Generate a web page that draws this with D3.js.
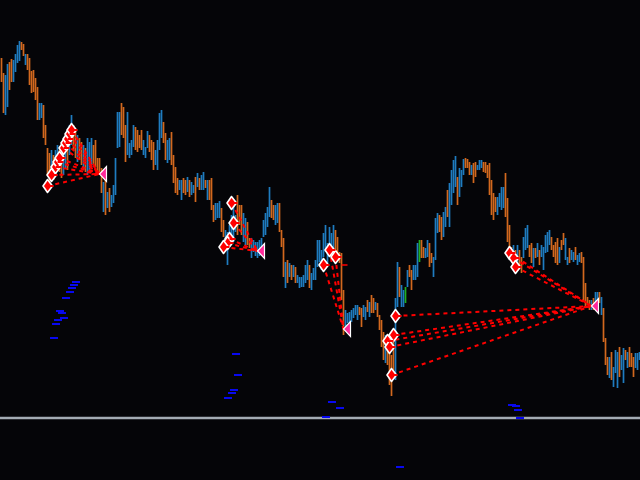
<!DOCTYPE html>
<html>
<head>
<meta charset="utf-8">
<script src="https://cdn.jsdelivr.net/npm/d3@7"></script>
<style>
html, body { margin: 0; padding: 0; background: #050508; overflow: hidden; }
</style>
</head>
<body>
<div id="chart"></div>
<script>
// bar highs / lows, in points (1 point = 0.0001)
var highs = [
    1222,1207,1205,1216,1218,1221,1220,1226,1235,1239,
    1238,1236,1226,1226,1222,1209,1210,1202,1193,1177,
    1177,1175,1155,1132,1127,1130,1125,1130,1135,1130,
    1125,1130,1140,1135,1155,1165,1155,1150,1145,1142,
    1138,1135,1132,1142,1138,1142,1135,1140,1122,1122,
    1112,1098,1102,1088,1092,1085,1095,1122,1168,1168,
    1177,1173,1155,1168,1137,1140,1155,1153,1150,1145,
    1150,1140,1133,1149,1145,1140,1138,1130,1140,1167,
    1170,1158,1147,1140,1142,1148,1125,1113,1102,1100,
    1100,1102,1100,1103,1100,1098,1095,1103,1107,1102,
    1105,1108,1100,1100,1100,1102,1075,1077,1077,1079,
    1072,1060,1050,1048,1055,1065,1075,1065,1085,1075,
    1075,1067,1062,1058,1042,1042,1040,1038,1038,1040,
    1042,1060,1067,1073,1093,1080,1075,1075,1077,1077,
    1050,1042,1018,1020,1017,1015,1015,1013,1005,1003,
    1003,1005,1015,1020,1015,1007,1012,1020,1040,1040,
    1030,1047,1055,1037,1053,1047,1055,1050,1043,1028,
    1027,990,970,967,968,970,972,975,975,973,
    972,975,973,980,978,985,982,978,977,965,
    960,948,945,940,935,925,950,982,1018,1013,
    995,990,993,1010,1015,1010,1015,1015,1037,1040,
    1040,1033,1032,1040,1037,1027,1023,1062,1067,1065,
    1063,1068,1073,1090,1097,1110,1120,1124,1103,1112,
    1110,1121,1122,1121,1118,1115,1117,1118,1115,1120,
    1120,1118,1118,1115,1117,1100,1087,1083,1083,1087,
    1093,1093,1107,1082,1055,1033,1035,1030,1035,1030,
    1023,1043,1052,1055,1035,1037,1032,1032,1037,1030,
    1035,1033,1045,1048,1050,1043,1035,1038,1042,1033,
    1040,1047,1042,1023,1032,1030,1028,1033,1025,1027,
    1028,1023,997,983,980,980,982,988,988,988,
    983,972,942,923,923,928,913,930,928,933,
    925,932,930,928,933,927,923,927,927,928
];
var lows = [
    1198,1167,1165,1173,1190,1198,1198,1208,1217,1219,
    1230,1224,1215,1210,1195,1187,1188,1180,1160,1160,
    1162,1142,1135,1105,1095,1102,1100,1108,1110,1108,
    1102,1105,1112,1110,1125,1135,1130,1122,1118,1120,
    1115,1110,1108,1105,1110,1112,1115,1113,1108,1105,
    1087,1068,1065,1072,1068,1073,1077,1085,1132,1133,
    1145,1142,1118,1125,1122,1125,1133,1130,1128,1132,
    1130,1125,1122,1132,1128,1120,1110,1115,1110,1130,
    1142,1137,1120,1117,1120,1115,1097,1087,1085,1090,
    1080,1087,1085,1088,1083,1085,1087,1078,1093,1090,
    1090,1090,1092,1080,1080,1070,1058,1060,1062,1062,
    1048,1043,1030,1015,1035,1045,1038,1048,1045,1055,
    1045,1038,1035,1035,1032,1022,1028,1024,1022,1024,
    1030,1043,1045,1053,1063,1062,1060,1055,1057,1048,
    1033,1003,992,997,1003,1000,1003,997,997,992,
    993,993,997,1000,992,990,1000,1000,1013,1018,
    1010,1023,1028,1017,1023,1033,1028,1023,1023,1017,
    980,945,953,957,953,958,962,965,960,965,
    953,963,960,968,963,967,967,970,963,950,
    933,920,917,915,895,884,908,900,973,983,
    973,973,977,993,1003,990,1000,1000,1003,1018,
    1022,1022,1022,1023,1013,1017,1003,1020,1047,1048,
    1040,1043,1053,1063,1053,1075,1087,1093,1075,1083,
    1093,1105,1112,1112,1105,1105,1097,1103,1110,1110,
    1112,1108,1107,1102,1085,1065,1060,1068,1065,1073,
    1070,1072,1063,1038,1030,1020,1018,1012,1015,1012,
    1007,1022,1030,1032,1023,1017,1013,1022,1023,1015,
    1023,1010,1027,1028,1035,1030,1023,1017,1015,1017,
    1030,1035,1020,1015,1017,1020,1018,1020,1015,1018,
    1017,980,973,975,970,970,970,973,973,977,
    965,938,915,905,902,900,893,907,892,903,
    910,897,920,912,913,913,903,912,910,920
];
// u = up bar, o = down bar, g = unchanged
var dirs = [
    "oouuoouuuu","oouoooooou","uoooououuo","ouuouuoouo","ououuuoooo",
    "ouououuuuu","ooouuuuooo","ouuuooouuu","uoouuoooou","uoououuouo",
    "uuouooouuu","oouuuuuuoo","ouuoouuuuu","uuuuuoouuo","oououououu",
    "uuuuouuuuu","uuuuuuuooo","oouuuuuuuo","ouuouoouoo","oouoooouuo",
    "uuguoouuug","oouuoouuuo","ouuouuuuou","uuooouoouu","uooooooouu",
    "uuoooououo","ouuuoououo","uuuuuoooou","oouuouuouu","ooooououuo",
    "uooououuuo","uuouooouuu"
].join("").split("");

// signal arrows [bar, price] and the target triangle of each group
var signalsA = [[23,1094],[25,1105],[27,1113],[28,1118],[29,1122],[31,1132],[32,1137],[33,1141],[34,1146],[35,1150]];
var signalsB = [[115,1077],[116,1057],[114,1041],[113,1037],[111,1033]];
var signalsC = [[161,1015],[164,1030],[167,1023]];
var signalsD = [[197,964],[196,945],[193,939],[194,933],[195,905],[254,1027],[256,1022],[257,1013]];
var targets = [[49,1106],[128,1029],[171,951],[295,974]];

// blue level ticks [start bar, price]
var ticks = [
    [36,998],[35,995],[34,992],[33,988],[31,982],[28,969],[29,967],[30,962],[27,960],[26,956],[25,942],
    [116,926],[117,905],[115,890],[114,887],[112,882],[164,878],[168,872],[161,863],
    [254,875],[256,874],[257,870],[258,862],[198,813]
];
var closeMark = [170, 173, 1015];
var levelLine = 862;

(function () {
    "use strict";
    var width = 640, height = 480,
        n = highs.length,
        colors = {u: "#1f7cc0", o: "#d2681e", g: "#20b020"},

        x = d3.scaleBand()
            .domain(d3.range(n))
            .range([0, width]),

        cx = function (i) { return x(i) + x.bandwidth() * 0.75; },

        y = d3.scaleLinear()
            .domain([800, 1280])
            .range([height, 0]),

        svg = d3.select("#chart").append("svg")
            .attr("width", width)
            .attr("height", height)
            .style("display", "block")
            .style("background", "#050508");

    // bars
    svg.append("g").selectAll("line")
        .data(d3.range(n))
        .enter().append("line")
        .attr("x1", cx)
        .attr("x2", cx)
        .attr("y1", function (i) { return y(highs[i]); })
        .attr("y2", function (i) { return y(lows[i]); })
        .attr("stroke", function (i) { return colors[dirs[i]] || colors.u; })
        .attr("stroke-width", 1.7);

    // level line
    svg.append("line")
        .attr("x1", 0).attr("x2", width)
        .attr("y1", y(levelLine)).attr("y2", y(levelLine))
        .attr("stroke", "#a4acb4")
        .attr("stroke-width", 2.5);

    // blue ticks
    svg.append("g").selectAll("rect")
        .data(ticks)
        .enter().append("rect")
        .attr("x", function (d) { return x(d[0]); })
        .attr("y", function (d) { return y(d[1]) - 1; })
        .attr("width", x.bandwidth() * 4)
        .attr("height", 2)
        .attr("fill", "#0808f0");

    // dashed links
    var groups = [signalsA, signalsB, signalsC, signalsD],
        links = [];
    groups.forEach(function (g, k) {
        g.forEach(function (p) { links.push({from: p, to: targets[k]}); });
    });

    svg.append("g").selectAll("line")
        .data(links)
        .enter().append("line")
        .attr("x1", function (d) { return cx(d.from[0]); })
        .attr("y1", function (d) { return y(d.from[1]); })
        .attr("x2", function (d) { return cx(d.to[0]); })
        .attr("y2", function (d) { return y(d.to[1]); })
        .attr("stroke", "#ff0000")
        .attr("stroke-width", 2)
        .attr("stroke-dasharray", "4,4");

    svg.append("line")
        .attr("x1", cx(closeMark[0])).attr("x2", cx(closeMark[1]))
        .attr("y1", y(closeMark[2])).attr("y2", y(closeMark[2]))
        .attr("stroke", "#ff0000")
        .attr("stroke-width", 1.5);

    // triangles
    svg.append("g").selectAll("path")
        .data(targets)
        .enter().append("path")
        .attr("transform", function (d) { return "translate(" + cx(d[0]) + "," + y(d[1]) + ")"; })
        .attr("d", "M0,0L7,-7.5L7,7.5Z")
        .attr("fill", "#ff2a9a")
        .attr("stroke", "#ffffff")
        .attr("stroke-width", 1.2);

    // signal arrows
    var all = [].concat(signalsA, signalsB, signalsC, signalsD);
    svg.append("g").selectAll("path")
        .data(all)
        .enter().append("path")
        .attr("transform", function (d) { return "translate(" + cx(d[0]) + "," + y(d[1]) + ")"; })
        .attr("d", "M-4.5,0L0,-6.5L5,0L0,6.5Z")
        .attr("fill", "#ff0000")
        .attr("stroke", "#ffffff")
        .attr("stroke-width", 1.6)
        .attr("stroke-linejoin", "round");
    svg.append("g").selectAll("line")
        .data(all)
        .enter().append("line")
        .attr("x1", function (d) { return cx(d[0]); })
        .attr("x2", function (d) { return cx(d[0]) + 6; })
        .attr("y1", function (d) { return y(d[1]); })
        .attr("y2", function (d) { return y(d[1]); })
        .attr("stroke", "#ff0000")
        .attr("stroke-width", 2);
}());
</script>
</body>
</html>
